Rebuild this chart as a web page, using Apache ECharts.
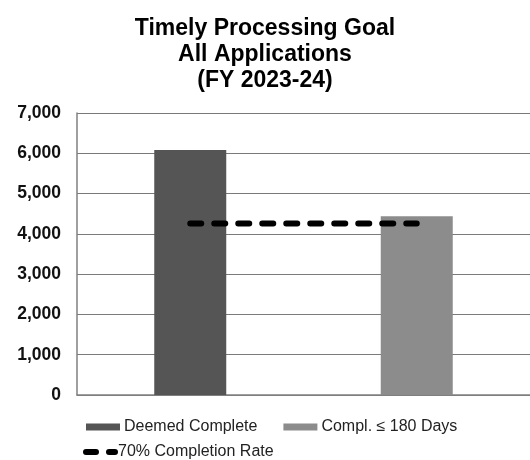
<!DOCTYPE html>
<html><head><meta charset="utf-8">
<script src="https://cdn.jsdelivr.net/npm/echarts@6/dist/echarts.min.js"></script>
<style>html,body{margin:0;padding:0;background:#fff}#c{width:530px;height:460px}</style>
</head><body><div id="c"></div>
<script>
var categories = ["Deemed Complete", "Compl. \u2264 180 Days"];
var deemedComplete = [6080, '-'];
var completed180 = ['-', 4440];
var completionRate = [4256, 4256];
var yTicks = [0, 1000, 2000, 3000, 4000, 5000, 6000, 7000];

var FONT = '"Liberation Sans", Arial, sans-serif';
var dashIcon = 'path://M3,0 L13,0 A3,3 0 0 1 13,6 L3,6 A3,3 0 0 1 3,0 Z M26,0 L32,0 A3,3 0 0 1 32,6 L26,6 A3,3 0 0 1 26,0 Z';
var chart = echarts.init(document.getElementById('c'));
chart.setOption({
  animation: false,
  backgroundColor: '#fff',
  title: {
    text: 'Timely Processing Goal\nAll Applications\n(FY 2023-24)',
    left: 'center', top: 11,
    textStyle: {fontFamily: FONT, fontSize: 23, fontWeight: 'bold', color: '#000', lineHeight: 26}
  },
  legend: [{
    data: [{name: categories[0], icon: 'rect'}, {name: categories[1], icon: 'rect'}],
    left: 86, top: 419, padding: 0,
    itemWidth: 34, itemHeight: 7, itemGap: 26,
    textStyle: {fontFamily: FONT, fontSize: 16, color: '#222', padding: [0,0,0,-1]}
  }, {
    data: [{name: '70% Completion Rate', icon: dashIcon}],
    left: 83, top: 444, padding: 0,
    itemWidth: 35, itemHeight: 6,
    itemStyle: {color: '#000'},
    textStyle: {fontFamily: FONT, fontSize: 16, color: '#222', padding: [0,0,0,-5]}
  }],
  grid: {left: 77, top: 113, width: 460, bottom: 65, containLabel: false},
  xAxis: {
    type: 'category', data: categories,
    axisLine: {lineStyle: {color: '#808080', width: 1.5}},
    axisTick: {show: false}, axisLabel: {show: false}
  },
  yAxis: {
    type: 'value', min: yTicks[0], max: yTicks[yTicks.length-1], interval: 1000,
    axisLine: {show: true, lineStyle: {color: '#808080', width: 1.5}},
    axisTick: {show: false},
    axisLabel: {fontFamily: FONT, fontSize: 17.5, fontWeight: 'bold', color: '#111', margin: 16,
      formatter: function(v){ return v.toLocaleString('en-US'); }},
    splitLine: {lineStyle: {color: '#7a7a7a', width: 1.2}}
  },
  series: [{
    name: categories[0], type: 'bar', stack: 's', data: deemedComplete,
    barWidth: 72, itemStyle: {color: '#555555'}
  }, {
    name: categories[1], type: 'bar', stack: 's', data: completed180,
    barWidth: 72, itemStyle: {color: '#8c8c8c'}
  }, {
    name: '70% Completion Rate', type: 'line', data: completionRate,
    symbol: 'none', z: 5,
    lineStyle: {color: '#000', width: 6, type: [11, 13], cap: 'round'},
    itemStyle: {color: '#000'}
  }]
});
</script></body></html>
